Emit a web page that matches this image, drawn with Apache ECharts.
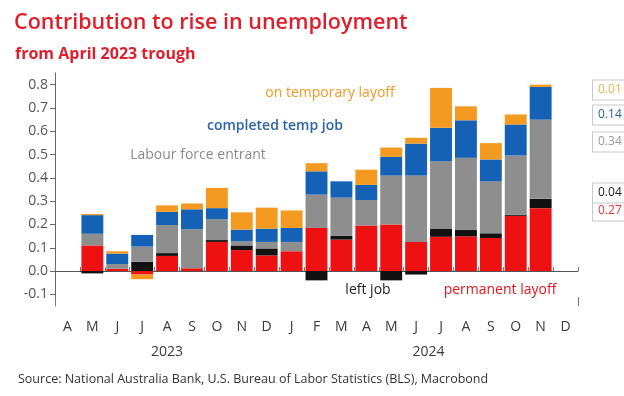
<!DOCTYPE html>
<html><head><meta charset="utf-8">
<script src="https://cdn.jsdelivr.net/npm/echarts@6/dist/echarts.min.js"></script>
<style>html,body{margin:0;padding:0;background:#fff}#c{width:624px;height:396px}</style>
</head><body><div id="c"></div>
<script>
// ---- data ----
const months = ['Apr 2023','May 2023','Jun 2023','Jul 2023','Aug 2023','Sep 2023','Oct 2023','Nov 2023','Dec 2023',
  'Jan 2024','Feb 2024','Mar 2024','Apr 2024','May 2024','Jun 2024','Jul 2024','Aug 2024','Sep 2024','Oct 2024','Nov 2024','Dec 2024'];
const monthLetters = ['A','M','J','J','A','S','O','N','D','J','F','M','A','M','J','J','A','S','O','N','D'];
const yearLabels = ['2023','2024'];
const permanentLayoff    = [null, 0.11, 0.01, -0.015, 0.065, 0.012, 0.125, 0.09, 0.067, 0.085, 0.185, 0.135, 0.195, 0.20, 0.125, 0.147, 0.149, 0.142, 0.237, 0.27, null];
const leftJob            = [null, -0.01, 0.0, 0.04, 0.012, 0.0, 0.008, 0.02, 0.03, 0.0, -0.04, 0.017, 0.0, -0.04, -0.015, 0.034, 0.027, 0.02, 0.005, 0.04, null];
const labourForceEntrant = [null, 0.05, 0.02, 0.065, 0.12, 0.168, 0.09, 0.018, 0.028, 0.04, 0.143, 0.163, 0.11, 0.21, 0.285, 0.29, 0.31, 0.223, 0.254, 0.34, null];
const completedTempJob   = [null, 0.08, 0.045, 0.05, 0.057, 0.085, 0.047, 0.05, 0.057, 0.06, 0.10, 0.07, 0.065, 0.08, 0.137, 0.144, 0.161, 0.094, 0.133, 0.14, null];
const temporaryLayoff    = [null, 0.005, 0.01, -0.02, 0.028, 0.025, 0.087, 0.074, 0.09, 0.075, 0.035, 0.0, 0.065, 0.04, 0.025, 0.171, 0.06, 0.07, 0.043, 0.01, null];

const lastIdx = 19;
const chart = echarts.init(document.getElementById('c'), null, {renderer:'canvas'});
const FONT = '"Open Sans", sans-serif';

function mk(name, arr, color, textColor, labelY) {
  return {
    name: name, type: 'bar', stack: 'total', barWidth: '88%',
    itemStyle: {color: color},
    data: arr.map((v, i) => i === lastIdx ? {value: v, label: {show: true}} : v),
    label: {
      show: false, position: 'right', formatter: p => p.value.toFixed(2),
      fontFamily: FONT, fontSize: 12, color: textColor,
      backgroundColor: '#fff', borderColor: '#c8c8c8', borderWidth: 1, padding: [4, 6, 3, 5]
    },
    labelLayout: p => p.dataIndex === lastIdx ? {x: 593, y: labelY, align: 'left', verticalAlign: 'middle'} : {},
    emphasis: {disabled: true}
  };
}

chart.setOption({
  animation: false,
  backgroundColor: '#fff',
  grid: {left: 55, right: 46, top: 73, bottom: 90},
  xAxis: [{
    type: 'category', data: months, boundaryGap: true,
    axisLine: {lineStyle: {color: '#555'}},
    axisTick: {show: true, inside: true, length: 4, interval: 0, lineStyle: {color: '#777'}},
    axisLabel: {interval: 0, formatter: (v, i) => monthLetters[i], fontFamily: FONT, fontSize: 14, color: '#3a3a3a', margin: 14}
  }, {
    type: 'category', data: months, boundaryGap: true, position: 'bottom',
    axisLine: {show: false},
    axisTick: {show: true, inside: true, length: 9, interval: (i) => i === 9, lineStyle: {color: '#777'}},
    axisLabel: {show: false}
  }],
  yAxis: {
    type: 'value', min: -0.15, max: 0.85, splitNumber: 10,
    splitLine: {show: false},
    axisLine: {show: true, lineStyle: {color: '#666'}},
    axisTick: {show: true, length: 5, lineStyle: {color: '#666'}},
    axisLabel: {showMinLabel: false, showMaxLabel: false, formatter: v => v.toFixed(1), fontFamily: FONT, fontSize: 14, color: '#555', margin: 7}
  },
  series: [
    mk('permanent layoff', permanentLayoff, '#ee1111', '#e53935', 211),
    mk('left job', leftJob, '#111111', '#222', 193),
    mk('Labour force entrant', labourForceEntrant, '#8e8e8e', '#999', 142),
    mk('completed temp job', completedTempJob, '#1461b6', '#2a5d9f', 115),
    mk('on temporary layoff', temporaryLayoff, '#f49a21', '#e8b04a', 90)
  ]
});

const yearX = [
  chart.convertToPixel({xAxisIndex: 0}, 'Aug 2023'),
  (chart.convertToPixel({xAxisIndex: 0}, 'Jan 2024') + chart.convertToPixel({xAxisIndex: 0}, 'Dec 2024')) / 2
];

chart.setOption({
  graphic: [
    {type: 'text', left: 14, top: 12, style: {text: 'Contribution to rise in unemployment', font: '600 21.5px "Open Sans", sans-serif', fill: '#e01e2b'}},
    {type: 'text', left: 15, top: 46, style: {text: 'from April 2023 trough', font: 'bold 16px "Open Sans", sans-serif', fill: '#e01e2b'}},
    {type: 'text', x: 330, y: 93, style: {text: 'on temporary layoff', font: '14px "Open Sans", sans-serif', fill: '#f39a1e', align: 'center', verticalAlign: 'middle'}},
    {type: 'text', x: 275, y: 126, style: {text: 'completed temp job', font: '600 14px "Open Sans", sans-serif', fill: '#2a64a8', align: 'center', verticalAlign: 'middle'}},
    {type: 'text', x: 198, y: 155, style: {text: 'Labour force entrant', font: '14px "Open Sans", sans-serif', fill: '#8a8a8a', align: 'center', verticalAlign: 'middle'}},
    {type: 'text', x: 368, y: 290, style: {text: 'left job', font: '14px "Open Sans", sans-serif', fill: '#222', align: 'center', verticalAlign: 'middle'}},
    {type: 'text', x: 500, y: 290, style: {text: 'permanent layoff', font: '14px "Open Sans", sans-serif', fill: '#e8141c', align: 'center', verticalAlign: 'middle'}},
    {type: 'text', x: yearX[0], y: 352, style: {text: yearLabels[0], font: '14px "Open Sans", sans-serif', fill: '#3a3a3a', align: 'center', verticalAlign: 'middle'}},
    {type: 'text', x: yearX[1], y: 352, style: {text: yearLabels[1], font: '14px "Open Sans", sans-serif', fill: '#3a3a3a', align: 'center', verticalAlign: 'middle'}},
    {type: 'text', left: 18, top: 373, style: {text: 'Source: National Australia Bank, U.S. Bureau of Labor Statistics (BLS), Macrobond', font: '12.5px "Open Sans", sans-serif', fill: '#333'}}
  ]
});
</script>
</body></html>
